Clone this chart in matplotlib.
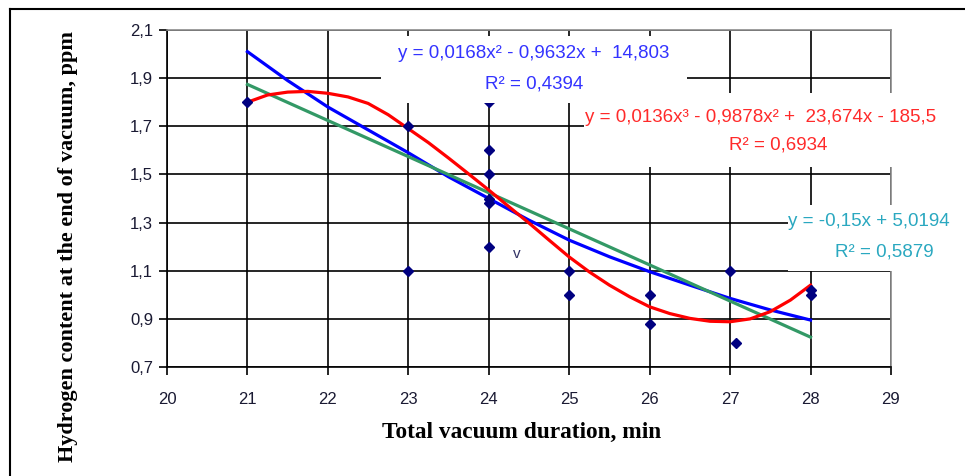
import numpy as np
import matplotlib.pyplot as plt
from matplotlib.lines import Line2D
from matplotlib.patches import Rectangle

# measured points: vacuum duration (min) vs hydrogen content (ppm)
duration = [21, 23, 23, 24, 24, 24, 24, 24, 24, 25, 25, 26, 26, 27, 27.07, 28, 28]
hydrogen = [1.8, 1.7, 1.1, 1.8, 1.6, 1.5, 1.4, 1.38, 1.2, 1.1, 1.0, 1.0, 0.88, 1.1, 0.8, 1.02, 1.0]

# trend lines
poly2_x = [21, 21.5, 22, 22.5, 23, 23.5, 24, 24.5, 25, 25.5, 26, 26.5, 27, 27.5, 28]
poly2_y = [2.01, 1.89, 1.78, 1.685, 1.59, 1.49, 1.40, 1.31, 1.227, 1.158, 1.096, 1.04, 0.985, 0.937, 0.895]
poly3_x = [21, 21.25, 21.5, 21.75, 22, 22.25, 22.5, 22.75, 23, 23.25, 23.5, 23.75, 24, 24.25,
           24.5, 24.75, 25, 25.25, 25.5, 25.75, 26, 26.25, 26.5, 26.75, 27, 27.25, 27.5, 27.75, 28]
poly3_y = [1.80, 1.83, 1.842, 1.845, 1.837, 1.822, 1.795, 1.748, 1.69, 1.632, 1.568, 1.502, 1.435, 1.366,
           1.298, 1.227, 1.157, 1.095, 1.04, 0.992, 0.95, 0.922, 0.902, 0.89, 0.888, 0.90, 0.93, 0.978, 1.04]
lin_x = [21, 28]
lin_y = [1.874, 0.824]

x_ticks = [20, 21, 22, 23, 24, 25, 26, 27, 28, 29]
y_ticks = [0.7, 0.9, 1.1, 1.3, 1.5, 1.7, 1.9, 2.1]
y_tick_labels = ["0,7", "0,9", "1,1", "1,3", "1,5", "1,7", "1,9", "2,1"]

eq_quad = ["y = 0,0168x² - 0,9632x +  14,803", "R² = 0,4394"]
eq_cub = ["y = 0,0136x³ - 0,9878x² +  23,674x - 185,5", "R² = 0,6934"]
eq_lin = ["y = -0,15x + 5,0194", "R² = 0,5879"]

plt.rcParams['font.family'] = ['Liberation Sans', 'DejaVu Sans']

W, H = 965, 476
fig = plt.figure(figsize=(W / 100, H / 100), dpi=100)
ax = fig.add_axes([167 / W, 1 - 367 / H, 724 / W, 337 / H])

ax.plot(poly2_x, poly2_y, color='#0000ff', lw=2.3, zorder=3)
ax.plot(lin_x, lin_y, color='#339966', lw=2.3, zorder=3)
ax.plot(poly3_x, poly3_y, color='#ff0000', lw=2.3, zorder=3)
ax.plot(duration, hydrogen, 'D', color='#000080', ms=5, zorder=4, clip_on=False)

ax.set_xlim(20, 29)
ax.set_ylim(0.7, 2.1)
ax.set_xticks(x_ticks)
ax.set_yticks(y_ticks)
ax.set_yticklabels(y_tick_labels)
ax.tick_params(direction='out', length=6, width=1.2, labelsize=12,
               labelcolor='#1a1a33', pad=4)
ax.tick_params(axis='x', pad=12)
ax.grid(True, color='black', lw=1.2)
ax.set_axisbelow(True)
for s in ['left', 'bottom']:
    ax.spines[s].set_color('black')
    ax.spines[s].set_linewidth(1.2)
for s in ['top', 'right']:
    ax.spines[s].set_color('#8c8c8c')
    ax.spines[s].set_linewidth(1.2)

fig.text(522 / W, 1 - 432 / H, "Total vacuum duration, min", family='Liberation Serif',
         fontweight='bold', fontsize=16.8, ha='center', va='center')
fig.text(68 / W, 1 - 247 / H, "Hydrogen content at the end of vacuum, ppm",
         family='Liberation Serif', fontweight='bold', fontsize=16,
         rotation=90, ha='center', va='center')

# white label backgrounds hiding the grid
for x0, y0, x1, y1 in [(381, 36, 687, 103), (584, 93, 966, 167), (788, 205, 966, 271)]:
    fig.add_artist(Rectangle((x0 / W, 1 - y1 / H), (x1 - x0) / W, (y1 - y0) / H,
                             transform=fig.transFigure, facecolor='white',
                             edgecolor='none', zorder=1))

fs = 13.5
fig.text(534 / W, 1 - 54 / H, eq_quad[0], color='#3333ff', fontsize=fs,
         ha='center', va='center', zorder=2)
fig.text(534 / W, 1 - 84 / H, eq_quad[1], color='#3333ff', fontsize=fs,
         ha='center', va='center', zorder=2)
fig.text(585 / W, 1 - 117 / H, eq_cub[0], color='#ff2a2a', fontsize=fs,
         ha='left', va='center', zorder=2)
fig.text(778 / W, 1 - 145 / H, eq_cub[1], color='#ff2a2a', fontsize=fs,
         ha='center', va='center', zorder=2)
fig.text(788 / W, 1 - 222 / H, eq_lin[0], color='#2aa8c0', fontsize=fs,
         ha='left', va='center', zorder=2)
fig.text(884 / W, 1 - 252 / H, eq_lin[1], color='#2aa8c0', fontsize=fs,
         ha='center', va='center', zorder=2)
ax.text(24.35, 1.17, "v", color='#333366', fontsize=11, ha='center', va='center')

# outer frame (left and top edges visible)
fig.add_artist(Line2D([10 / W, 10 / W], [0, 1 - 9 / H], color='black', lw=1.5))
fig.add_artist(Line2D([10 / W, 1], [1 - 9 / H, 1 - 9 / H], color='black', lw=1.5))

fig.savefig("out.png", dpi=100)
